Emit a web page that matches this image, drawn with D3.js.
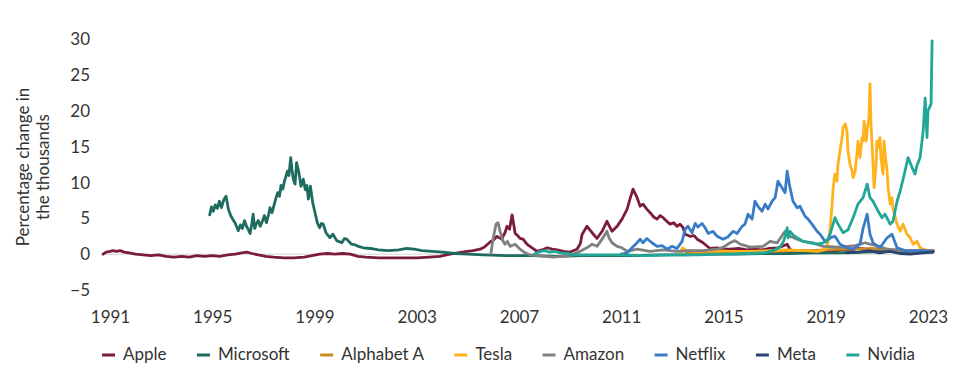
<!DOCTYPE html>
<html>
<head>
<meta charset="utf-8">
<script src="https://cdn.jsdelivr.net/npm/d3@7"></script>
<style>
  body { margin: 0; background: #fff; }
  svg { display: block; font-family: Lato, "Open Sans", sans-serif; }
  .axis text { font-family: Lato, "Open Sans", sans-serif; font-size: 17px; fill: #333; }
</style>
</head>
<body>
<svg id="chart" width="972" height="376"></svg>
<script>
// ---------------- data ----------------
const companies = ["Apple", "Microsoft", "Alphabet A", "Tesla", "Amazon", "Netflix", "Meta", "Nvidia"];
const lineColors = ["#7b1c3c", "#1d6c5f", "#c98b23", "#ffb21c", "#808080", "#3a7bc8", "#2a4370", "#22a697"];

const yearTicks = [1991, 1995, 1999, 2003, 2007, 2011, 2015, 2019, 2023];
const valueTicks = [-5, 0, 5, 10, 15, 20, 25, 30];

// [year, percentage change in thousands]
const appleData = [[1990.73,0.0],[1990.85,0.3],[1991.0,0.4],[1991.12,0.5],[1991.25,0.4],[1991.4,0.5],[1991.55,0.3],[1991.75,0.2],[1992.0,0.0],[1992.3,-0.1],[1992.6,-0.2],[1992.9,-0.1],[1993.2,-0.3],[1993.5,-0.4],[1993.8,-0.3],[1994.1,-0.4],[1994.4,-0.2],[1994.7,-0.3],[1995.0,-0.2],[1995.3,-0.3],[1995.6,-0.1],[1995.9,0.0],[1996.15,0.2],[1996.35,0.3],[1996.55,0.1],[1996.8,-0.1],[1997.1,-0.3],[1997.4,-0.4],[1997.8,-0.5],[1998.2,-0.5],[1998.6,-0.4],[1998.9,-0.2],[1999.2,0.0],[1999.5,0.1],[1999.8,0.0],[2000.1,0.1],[2000.4,0.0],[2000.7,-0.3],[2001.0,-0.4],[2001.5,-0.5],[2002.0,-0.5],[2002.5,-0.5],[2003.0,-0.5],[2003.5,-0.4],[2003.9,-0.3],[2004.3,0.0],[2004.6,0.2],[2004.97,0.4],[2005.2,0.5],[2005.48,0.7],[2005.65,1.0],[2005.87,1.7],[2006.0,2.0],[2006.14,2.5],[2006.32,2.1],[2006.45,3.0],[2006.53,3.9],[2006.63,3.5],[2006.73,5.5],[2006.85,2.9],[2006.95,2.6],[2007.04,2.2],[2007.16,2.1],[2007.31,1.4],[2007.51,0.9],[2007.71,0.4],[2007.9,0.6],[2008.1,0.9],[2008.3,0.7],[2008.49,0.6],[2008.75,0.4],[2009.0,0.3],[2009.27,0.7],[2009.4,1.5],[2009.47,2.8],[2009.66,3.9],[2009.86,3.0],[2010.05,2.2],[2010.25,3.2],[2010.44,4.6],[2010.64,3.2],[2010.84,3.9],[2011.03,4.9],[2011.23,6.3],[2011.34,7.7],[2011.46,9.1],[2011.62,7.9],[2011.74,6.7],[2011.85,7.0],[2012.0,6.3],[2012.13,5.8],[2012.27,5.2],[2012.4,4.9],[2012.52,5.4],[2012.64,5.1],[2012.78,4.6],[2012.91,4.2],[2013.05,4.4],[2013.18,3.9],[2013.3,4.2],[2013.42,3.7],[2013.5,2.8],[2013.69,2.5],[2013.85,2.6],[2013.97,2.1],[2014.2,1.6],[2014.47,0.8],[2014.75,0.9],[2015.0,0.7],[2015.26,0.7],[2015.6,0.8],[2015.9,0.6],[2016.2,0.7],[2016.5,0.6],[2016.8,0.8],[2017.1,0.9],[2017.3,1.1],[2017.49,1.4],[2017.6,0.7],[2017.72,0.4],[2018.0,0.5],[2018.4,0.4],[2018.8,0.5],[2019.2,0.4],[2019.6,0.6],[2020.0,0.6],[2020.3,0.8],[2020.6,0.7],[2021.0,0.6],[2021.4,0.5],[2021.8,0.6],[2022.2,0.5],[2022.7,0.4],[2023.2,0.5]];

const microsoftData = [[1994.9,5.5],[1994.97,6.6],[1995.04,6.0],[1995.12,6.9],[1995.2,6.4],[1995.28,7.4],[1995.36,6.5],[1995.45,7.6],[1995.54,8.1],[1995.63,6.3],[1995.72,5.4],[1995.8,4.9],[1995.89,4.4],[1995.96,3.8],[1996.02,3.3],[1996.1,4.1],[1996.18,3.6],[1996.26,4.7],[1996.34,3.9],[1996.42,3.4],[1996.48,2.9],[1996.55,4.3],[1996.6,5.6],[1996.66,3.6],[1996.73,4.3],[1996.8,4.7],[1996.88,3.9],[1996.96,4.6],[1997.04,5.4],[1997.12,4.4],[1997.2,5.5],[1997.26,6.5],[1997.34,5.8],[1997.42,6.9],[1997.48,7.7],[1997.56,8.6],[1997.63,8.1],[1997.69,9.6],[1997.76,9.1],[1997.83,10.3],[1997.87,10.7],[1997.94,11.6],[1998.0,11.0],[1998.07,13.5],[1998.12,11.8],[1998.17,10.5],[1998.24,9.8],[1998.3,12.8],[1998.35,12.0],[1998.39,11.4],[1998.47,9.5],[1998.56,10.5],[1998.64,9.0],[1998.7,9.6],[1998.76,7.7],[1998.84,9.5],[1998.93,7.2],[1999.02,5.8],[1999.11,4.4],[1999.2,3.7],[1999.27,4.3],[1999.34,4.2],[1999.45,3.0],[1999.6,2.3],[1999.72,2.8],[1999.87,1.9],[2000.07,1.6],[2000.17,2.2],[2000.26,2.1],[2000.45,1.4],[2000.6,1.3],[2000.71,1.1],[2000.91,0.9],[2001.2,0.8],[2001.5,0.6],[2001.9,0.5],[2002.3,0.6],[2002.6,0.8],[2002.9,0.7],[2003.2,0.5],[2003.6,0.4],[2004.0,0.3],[2004.5,0.1],[2005.0,0.0],[2005.6,-0.1],[2006.5,-0.2],[2007.5,-0.2],[2008.5,-0.3],[2009.5,-0.2],[2010.5,-0.2],[2011.5,-0.2],[2012.5,-0.1],[2013.5,-0.1],[2014.5,0.0],[2015.5,0.0],[2016.5,0.1],[2017.5,0.1],[2018.5,0.2],[2019.5,0.2],[2020.5,0.3],[2021.5,0.4],[2022.3,0.3],[2023.2,0.4]];

const alphabetData = [[2013.3,0.1],[2013.42,0.7],[2013.55,0.3],[2014.0,0.2],[2015.0,0.3],[2016.0,0.3],[2017.0,0.4],[2017.6,0.5],[2018.3,0.5],[2019.0,0.6],[2019.6,0.7],[2020.2,0.7],[2020.8,0.8],[2021.4,0.7],[2021.9,0.5],[2022.4,0.3],[2022.9,0.3],[2023.2,0.3]];

const teslaData = [[2013.3,0.2],[2013.4,0.9],[2013.55,0.5],[2014.0,0.4],[2014.6,0.5],[2015.3,0.4],[2016.0,0.4],[2016.8,0.5],[2017.5,0.6],[2018.2,0.5],[2018.7,0.4],[2019.0,0.7],[2019.08,1.5],[2019.16,3.2],[2019.25,7.0],[2019.29,9.3],[2019.36,11.2],[2019.44,10.2],[2019.48,12.6],[2019.56,14.5],[2019.64,16.3],[2019.68,17.7],[2019.76,18.2],[2019.83,17.2],[2019.87,14.4],[2019.95,12.6],[2020.03,11.6],[2020.07,10.7],[2020.15,11.6],[2020.23,14.4],[2020.26,15.8],[2020.34,13.5],[2020.42,16.3],[2020.46,15.8],[2020.5,18.6],[2020.58,15.8],[2020.62,17.2],[2020.69,19.1],[2020.73,23.8],[2020.77,18.2],[2020.85,12.6],[2020.89,9.3],[2020.97,12.6],[2021.0,15.8],[2021.05,14.9],[2021.12,16.3],[2021.16,13.5],[2021.24,11.2],[2021.28,15.8],[2021.32,14.0],[2021.4,11.6],[2021.44,9.3],[2021.52,7.0],[2021.59,7.9],[2021.63,6.4],[2021.79,4.2],[2021.91,3.2],[2022.02,4.2],[2022.18,2.8],[2022.3,2.3],[2022.42,1.4],[2022.57,1.8],[2022.69,0.9],[2022.81,0.7],[2023.08,0.4],[2023.2,0.5]];

const amazonData = [[2005.9,0.1],[2005.98,2.0],[2006.1,4.2],[2006.18,4.4],[2006.26,3.2],[2006.38,1.8],[2006.45,1.4],[2006.55,1.8],[2006.65,1.1],[2006.85,1.4],[2007.04,0.7],[2007.24,0.2],[2007.43,-0.1],[2007.71,-0.2],[2008.33,-0.4],[2009.0,-0.2],[2009.39,0.4],[2009.66,0.9],[2009.86,1.4],[2010.05,1.1],[2010.25,2.1],[2010.44,3.2],[2010.52,2.3],[2010.64,1.6],[2010.84,1.1],[2011.03,0.9],[2011.23,0.4],[2011.62,0.7],[2012.13,0.4],[2012.64,0.6],[2013.18,0.4],[2013.69,0.5],[2014.2,0.5],[2014.75,0.7],[2015.0,1.0],[2015.26,1.6],[2015.45,1.9],[2015.65,1.4],[2016.04,1.0],[2016.55,1.1],[2016.82,1.8],[2017.1,1.6],[2017.41,3.2],[2017.6,2.5],[2017.88,2.1],[2018.11,1.8],[2018.5,1.6],[2018.9,1.1],[2019.56,1.0],[2020.15,1.2],[2020.54,1.6],[2020.73,1.4],[2021.0,1.2],[2021.4,0.7],[2021.9,0.5],[2022.49,0.5],[2023.2,0.5]];

const netflixData = [[2011.0,0.0],[2011.23,0.2],[2011.42,0.9],[2011.62,1.6],[2011.74,2.1],[2011.85,1.6],[2012.0,2.2],[2012.2,1.6],[2012.4,1.1],[2012.6,1.2],[2012.79,0.7],[2012.99,1.1],[2013.18,0.8],[2013.38,1.8],[2013.5,3.5],[2013.61,3.9],[2013.77,3.0],[2013.89,4.3],[2014.0,3.8],[2014.16,4.3],[2014.28,3.7],[2014.4,2.9],[2014.59,3.2],[2014.75,2.5],[2014.98,2.1],[2015.17,2.4],[2015.37,3.2],[2015.53,2.9],[2015.73,3.9],[2015.84,4.2],[2015.96,5.6],[2016.12,4.9],[2016.23,7.4],[2016.35,6.7],[2016.51,6.0],[2016.63,7.0],[2016.74,6.3],[2016.9,7.4],[2017.02,7.9],[2017.13,10.2],[2017.29,9.3],[2017.41,8.6],[2017.49,11.6],[2017.6,9.3],[2017.72,7.4],[2017.88,6.5],[2017.99,6.7],[2018.19,5.3],[2018.31,4.9],[2018.46,4.2],[2018.66,3.2],[2018.78,2.8],[2018.97,1.8],[2019.09,2.1],[2019.25,2.4],[2019.36,2.5],[2019.56,1.4],[2019.83,0.9],[2020.07,0.7],[2020.34,1.4],[2020.46,3.6],[2020.62,5.6],[2020.73,2.8],[2020.85,1.6],[2021.12,0.9],[2021.4,2.3],[2021.59,2.8],[2021.79,0.9],[2022.18,0.4],[2022.69,0.5],[2023.2,0.4]];

const metaData = [[2019.8,0.2],[2020.3,0.3],[2020.7,0.5],[2021.1,0.2],[2021.5,0.4],[2021.9,0.1],[2022.3,0.0],[2022.8,0.2],[2023.2,0.3]];

const nvidiaData = [[2007.6,0.0],[2007.71,0.2],[2007.85,0.4],[2008.02,0.5],[2008.2,0.3],[2008.41,0.4],[2008.6,0.2],[2008.88,0.1],[2009.19,-0.1],[2010.0,-0.1],[2011.0,-0.1],[2012.0,-0.2],[2013.0,-0.1],[2014.0,-0.1],[2015.0,0.0],[2016.0,0.1],[2016.6,0.2],[2016.94,0.5],[2017.21,1.0],[2017.35,1.8],[2017.41,2.5],[2017.49,3.7],[2017.53,2.3],[2017.6,3.2],[2017.75,2.6],[2017.88,2.3],[2018.11,1.8],[2018.39,1.6],[2018.66,1.4],[2018.9,1.6],[2019.05,1.8],[2019.17,2.8],[2019.36,5.1],[2019.48,4.2],[2019.68,3.0],[2019.87,3.4],[2020.07,5.1],[2020.26,7.0],[2020.46,7.9],[2020.62,9.8],[2020.73,7.9],[2020.85,7.4],[2021.05,6.0],[2021.2,5.1],[2021.32,5.6],[2021.52,4.2],[2021.63,4.6],[2021.79,7.4],[2021.91,8.8],[2022.1,11.6],[2022.22,13.5],[2022.38,12.1],[2022.49,11.2],[2022.57,12.4],[2022.69,13.5],[2022.81,17.2],[2022.89,21.8],[2022.96,16.3],[2023.0,20.0],[2023.12,21.0],[2023.16,29.8]];

const seriesData = [appleData, microsoftData, alphabetData, teslaData, amazonData, netflixData, metaData, nvidiaData];

// ---------------- chart ----------------
const svg = d3.select("#chart");

const xScale = d3.scaleLinear().domain([1991, 2023]).range([110, 928]);
const yScale = d3.scaleLinear().domain([-5, 30]).range([290, 39.5]);

// faint zero line
svg.append("line")
  .attr("x1", xScale(1990.73))
  .attr("x2", xScale(2023.2))
  .attr("y1", yScale(0))
  .attr("y2", yScale(0))
  .attr("stroke", "#d4d4d4")
  .attr("stroke-width", 1);

// y axis (labels only)
svg.append("g")
  .attr("class", "axis")
  .attr("transform", "translate(90,0)")
  .call(d3.axisLeft(yScale).tickValues(valueTicks).tickSize(0).tickPadding(0))
  .call(g => g.select(".domain").remove());

// x axis (labels only)
svg.append("g")
  .attr("class", "axis")
  .attr("transform", "translate(0,311)")
  .call(d3.axisBottom(xScale).tickValues(yearTicks).tickFormat(d3.format("d")).tickSize(0).tickPadding(0))
  .call(g => g.select(".domain").remove());

// rotated y label, two lines
const yTitle = ["Percentage change in", "the thousands"];
svg.selectAll(".ytitle")
  .data(yTitle)
  .enter()
  .append("text")
  .attr("class", "ytitle")
  .attr("transform", (d, i) => "translate(" + (29 + i * 20) + ",167) rotate(-90)")
  .attr("text-anchor", "middle")
  .attr("font-size", "17px")
  .attr("fill", "#333")
  .text(d => d);

// lines
const line = d3.line()
  .x(d => xScale(d[0]))
  .y(d => yScale(d[1]));

svg.append("g")
  .selectAll("path")
  .data(seriesData)
  .enter()
  .append("path")
  .attr("d", line)
  .attr("fill", "none")
  .attr("stroke", (d, i) => lineColors[i])
  .attr("stroke-width", 2.8)
  .attr("stroke-linejoin", "round")
  .attr("stroke-linecap", "round");

// legend, spread between x=102 and x=915
const legend = svg.append("g");
const items = legend.selectAll("g")
  .data(companies)
  .enter()
  .append("g");

items.append("line")
  .attr("x1", 0).attr("x2", 13)
  .attr("y1", 355).attr("y2", 355)
  .attr("stroke", (d, i) => lineColors[i])
  .attr("stroke-width", 3);

items.append("text")
  .attr("x", 21)
  .attr("y", 360)
  .attr("font-size", "17px")
  .attr("fill", "#333")
  .text(d => d);

let widths = [];
items.each(function() {
  widths.push(21 + d3.select(this).select("text").node().getComputedTextLength());
});
let gap = (915 - 102 - d3.sum(widths)) / (companies.length - 1);
let pos = 102;
items.attr("transform", function(d, i) {
  let t = "translate(" + pos + ",0)";
  pos += widths[i] + gap;
  return t;
});
</script>
</body>
</html>
